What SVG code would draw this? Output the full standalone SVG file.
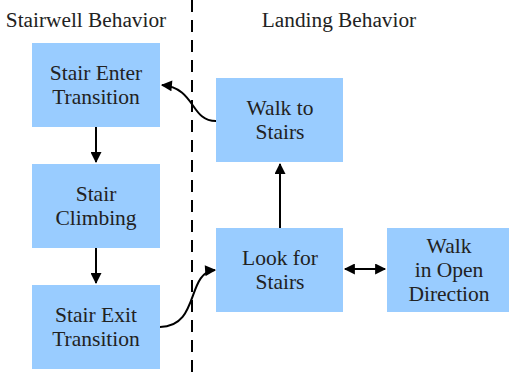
<svg xmlns="http://www.w3.org/2000/svg" width="509" height="377" viewBox="0 0 509 377">
  <style>
    .box { fill: #99ccff; }
    .lbl { font-family: "Liberation Serif", "Times New Roman", serif; font-size: 21.5px; fill: #222222; text-anchor: middle; }
    .hdr { font-family: "Liberation Serif", "Times New Roman", serif; font-size: 21.3px; fill: #222222; text-anchor: middle; }
    .edge { fill: none; stroke: #000000; stroke-width: 2; }
  </style>
  <defs>
    <marker id="arrowEnd" viewBox="0 0 10 10" refX="9" refY="5" markerWidth="6" markerHeight="5.5" orient="auto" markerUnits="strokeWidth">
      <path d="M0,0 L10,5 L0,10 z" fill="#000000"/>
    </marker>
    <marker id="arrowStart" viewBox="0 0 10 10" refX="1" refY="5" markerWidth="6" markerHeight="5.5" orient="auto" markerUnits="strokeWidth">
      <path d="M10,0 L0,5 L10,10 z" fill="#000000"/>
    </marker>
  </defs>

  <!-- region headers and divider -->
  <g id="headers">
    <text class="hdr" x="86" y="27">Stairwell Behavior</text>
    <text class="hdr" x="339" y="27">Landing Behavior</text>
    <line x1="192" y1="0" x2="192" y2="377" stroke="#000000" stroke-width="2" stroke-dasharray="12,8"/>
  </g>

  <g id="stair-enter">
    <rect class="box" x="32" y="43" width="128" height="84"/>
    <text class="lbl" x="96" y="80">Stair Enter</text>
    <text class="lbl" x="96" y="104">Transition</text>
  </g>
  <g id="stair-climbing">
    <rect class="box" x="32" y="164" width="128" height="84"/>
    <text class="lbl" x="96" y="201">Stair</text>
    <text class="lbl" x="96" y="225">Climbing</text>
  </g>
  <g id="stair-exit">
    <rect class="box" x="32" y="285" width="128" height="84"/>
    <text class="lbl" x="96" y="322">Stair Exit</text>
    <text class="lbl" x="96" y="346">Transition</text>
  </g>
  <g id="walk-to-stairs">
    <rect class="box" x="216" y="78" width="127" height="84"/>
    <text class="lbl" x="280" y="115">Walk to</text>
    <text class="lbl" x="280" y="139">Stairs</text>
  </g>
  <g id="look-for-stairs">
    <rect class="box" x="216" y="228" width="127" height="84"/>
    <text class="lbl" x="280" y="265">Look for</text>
    <text class="lbl" x="280" y="289">Stairs</text>
  </g>
  <g id="walk-open">
    <rect class="box" x="387" y="228" width="122" height="84"/>
    <text class="lbl" x="449" y="253">Walk</text>
    <text class="lbl" x="449" y="277">in Open</text>
    <text class="lbl" x="449" y="301">Direction</text>
  </g>

  <g id="connectors">
    <path class="edge" d="M96,127 L96,162" marker-end="url(#arrowEnd)"/>
    <path class="edge" d="M96,248 L96,283" marker-end="url(#arrowEnd)"/>
    <path class="edge" d="M216,121 C190,121 196,88 162,85" marker-end="url(#arrowEnd)"/>
    <path class="edge" d="M160,327 C200,327 186,272 215,270" marker-end="url(#arrowEnd)"/>
    <path class="edge" d="M280,228 L280,164" marker-end="url(#arrowEnd)"/>
    <path class="edge" d="M345,269 L385,269" marker-start="url(#arrowStart)" marker-end="url(#arrowEnd)"/>
  </g>
</svg>
